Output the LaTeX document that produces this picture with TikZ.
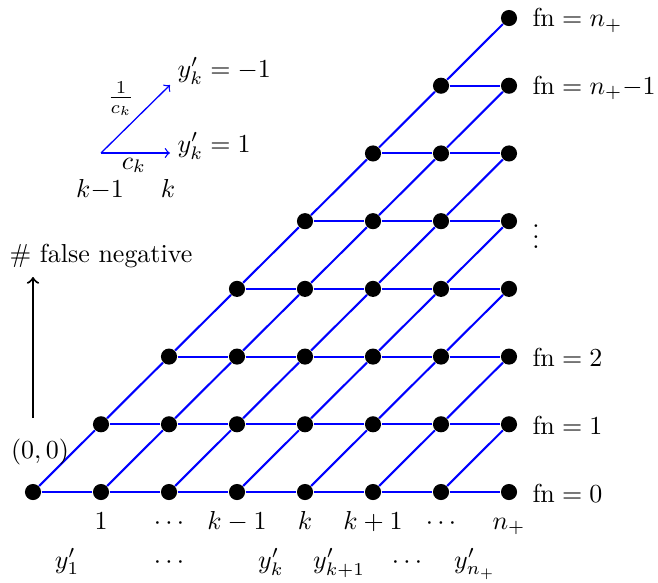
\documentclass[tikz,border=0pt]{standalone}
\begin{document}
\begin{tikzpicture}[x=0.385pt,y=-0.385pt,
  dot/.style={circle,fill=black,inner sep=0pt,minimum size=6.2pt},
  edge/.style={blue,line width=0.8pt},
  legarrow/.style={blue,line width=0.5pt,->},
  lbl/.style={inner sep=0pt},
]
\useasboundingbox (0,0) rectangle (658,582);
% grid points
\foreach \j in {0,...,7}{
  \foreach \i in {\j,...,7}{
    \node[dot] (p-\i-\j) at ({33+68*\i},{492-67.71*\j}) {};
  }
}
% connectors
\foreach \j in {0,...,6}{
  \foreach \i in {\j,...,6}{
    \pgfmathtruncatemacro{\ni}{\i+1}
    \pgfmathtruncatemacro{\nj}{\j+1}
    \draw[edge] (p-\i-\j) -- (p-\ni-\j);
    \draw[edge] (p-\i-\j) -- (p-\ni-\nj);
  }
}
% right labels
\node[lbl,anchor=base west] (fn7) at (532,27) {$\mathrm{fn}=n_+$};
\node[lbl,anchor=base west] (fn6) at (532,94) {$\mathrm{fn}=n_+{-}1$};
\node[lbl] (fnd) at (536,229) {$\vdots$};
\node[lbl,anchor=base west] (fn2) at (532,366) {$\mathrm{fn}=2$};
\node[lbl,anchor=base west] (fn1) at (532,434) {$\mathrm{fn}=1$};
\node[lbl,anchor=base west] (fn0) at (532,502) {$\mathrm{fn}=0$};
% bottom labels, first row
\node[lbl,anchor=base] (b1) at (101,529) {$1$};
\node[lbl,anchor=base] (b2) at (169,529) {$\cdots$};
\node[lbl,anchor=base] (b3) at (237,529) {$k-1$};
\node[lbl,anchor=base] (b4) at (305,529) {$k$};
\node[lbl,anchor=base] (b5) at (373,529) {$k+1$};
\node[lbl,anchor=base] (b6) at (441,529) {$\cdots$};
\node[lbl,anchor=base] (b7) at (509,529) {$n_+$};
% bottom labels, second row
\node[lbl,anchor=base] (c1) at (67,568) {$y'_1$};
\node[lbl,anchor=base] (c2) at (169,568) {$\cdots$};
\node[lbl,anchor=base] (c3) at (271,568) {$y'_k$};
\node[lbl,anchor=base] (c4) at (339,568) {$y'_{k+1}$};
\node[lbl,anchor=base] (c5) at (407,568) {$\cdots$};
\node[lbl,anchor=base] (c6) at (475,568) {$y'_{n_+}$};
% axis arrow
\coordinate (ab) at (33,418);
\coordinate (at) at (33,277);
\draw[line width=0.8pt,->] (ab) -- (at);
\node[lbl,anchor=base] (fneg) at (101,262) {\# false negative};
\node[lbl,anchor=base] (orig) at (40,458) {$(0,0)$};
% legend
\coordinate (lo) at (101,153);
\coordinate (lh) at (170,153);
\coordinate (ld) at (170,85);
\draw[legarrow] (lo) -- (lh);
\draw[legarrow] (lo) -- (ld);
\node[lbl] (lfrac) at (121,99) {$\frac{1}{c_k}$};
\node[lbl,anchor=base] (lck) at (134,169) {$c_k$};
\node[lbl,anchor=base west] (lym) at (177,77) {$y'_k=-1$};
\node[lbl,anchor=base west] (lyp) at (177,152) {$y'_k=1$};
\node[lbl,anchor=base] (lkm) at (100,197) {$k{-}1$};
\node[lbl,anchor=base] (lk) at (168,197) {$k$};
\end{tikzpicture}
\end{document}
